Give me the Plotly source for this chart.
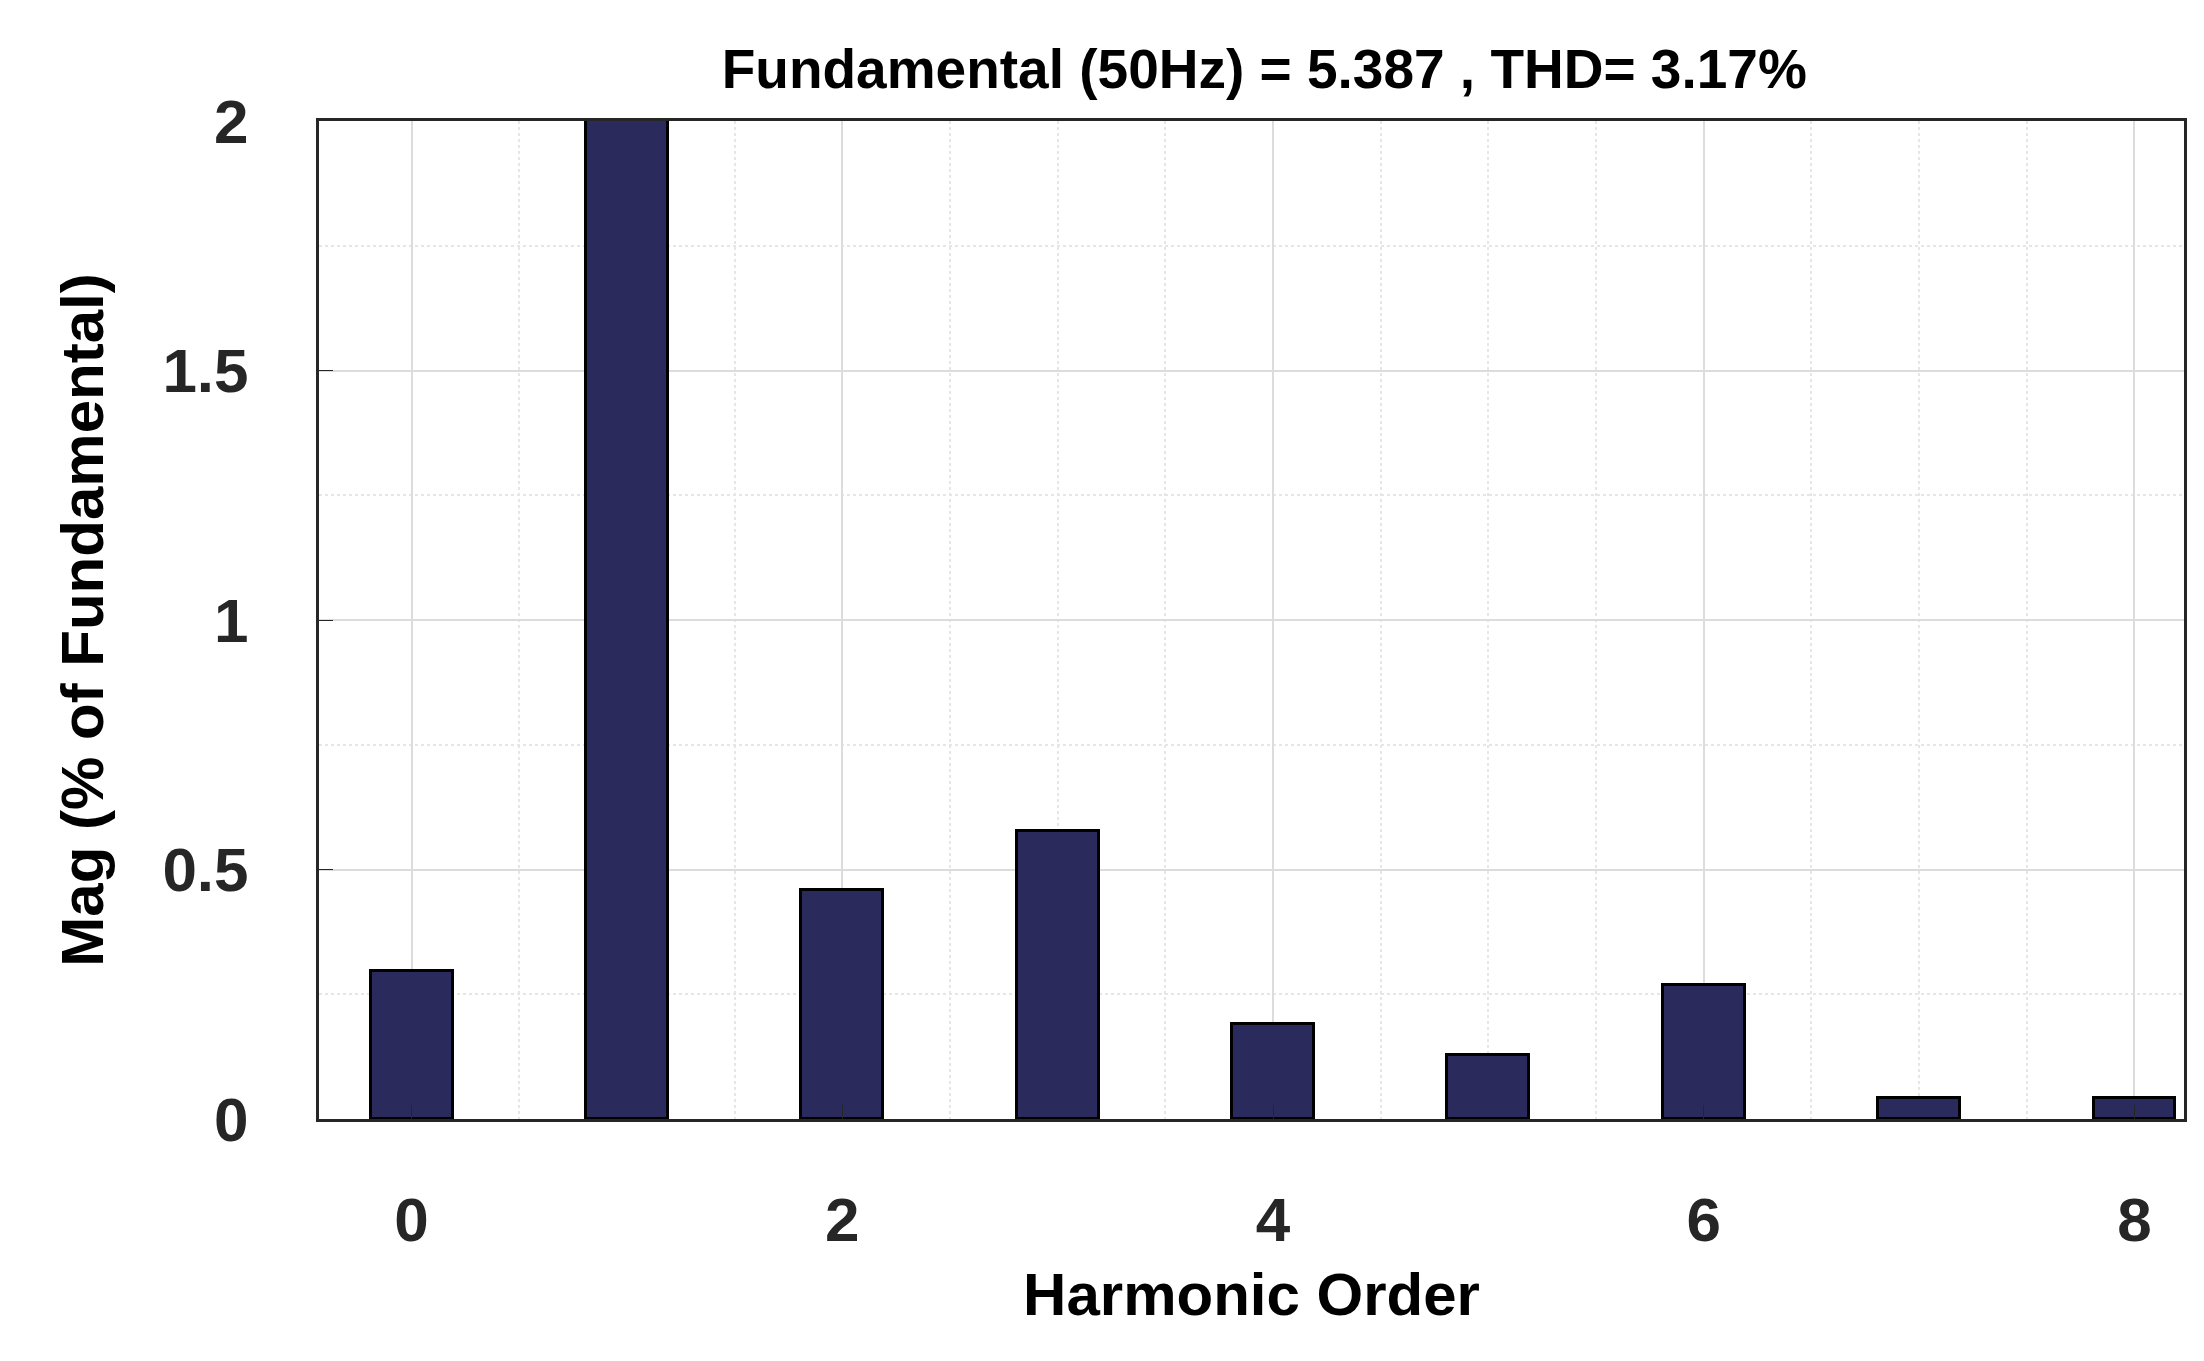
import plotly.graph_objects as go

harmonics = [0, 1, 2, 3, 4, 5, 6, 7, 8]
magnitudes = [0.296, 100.0, 0.458, 0.578, 0.19, 0.128, 0.268, 0.042, 0.042]
title_text = "Fundamental (50Hz) = 5.387 , THD= 3.17%"

fig = go.Figure(go.Bar(
    x=harmonics, y=magnitudes, width=0.38,
    marker=dict(color="#2b2a5c", line=dict(color="black", width=3)),
))
font = dict(family="Liberation Sans, Arial", size=62, color="#262626")
tfont = dict(family="Liberation Sans, Arial", size=60, color="black")
fig.update_layout(
    width=2204, height=1361,
    paper_bgcolor="white", plot_bgcolor="white",
    margin=dict(l=311, r=28, t=113, b=250),
    title=dict(text="<b>" + title_text + "</b>", x=0.57, xanchor="center", y=0.955, yanchor="middle",
               font=dict(family="Liberation Sans, Arial", size=55, color="black")),
    showlegend=False,
    bargap=0,
)
fig.update_xaxes(
    range=[-0.43, 8.23], tickvals=[0, 2, 4, 6, 8], ticktext=["<b>%d</b>" % v for v in [0, 2, 4, 6, 8]],
    tickfont=font, ticks="inside", ticklen=14, tickcolor="#262626", ticklabelstandoff=45,
    showgrid=True, gridcolor="#dcdcdc", gridwidth=2,
    minor=dict(dtick=0.5, showgrid=True, gridcolor="#e6e6e6", griddash="dot", gridwidth=2),
    showline=True, linecolor="#262626", linewidth=3, mirror=True,
    title=dict(text="<b>Harmonic Order</b>", font=tfont, standoff=20),
)
fig.update_yaxes(
    range=[0, 2], tickvals=[0, 0.5, 1, 1.5, 2], ticktext=["<b>0</b>", "<b>0.5</b>", "<b>1</b>", "<b>1.5</b>", "<b>2</b>"],
    tickfont=font, ticks="inside", ticklen=14, tickcolor="#262626", ticklabelstandoff=55,
    showgrid=True, gridcolor="#dcdcdc", gridwidth=2,
    minor=dict(dtick=0.25, showgrid=True, gridcolor="#e6e6e6", griddash="dot", gridwidth=2),
    showline=True, linecolor="#262626", linewidth=3, mirror=True, zeroline=False,
    title=dict(text="<b>Mag (% of Fundamental)</b>", font=tfont, standoff=40),
)
fig.write_html("out.html")
